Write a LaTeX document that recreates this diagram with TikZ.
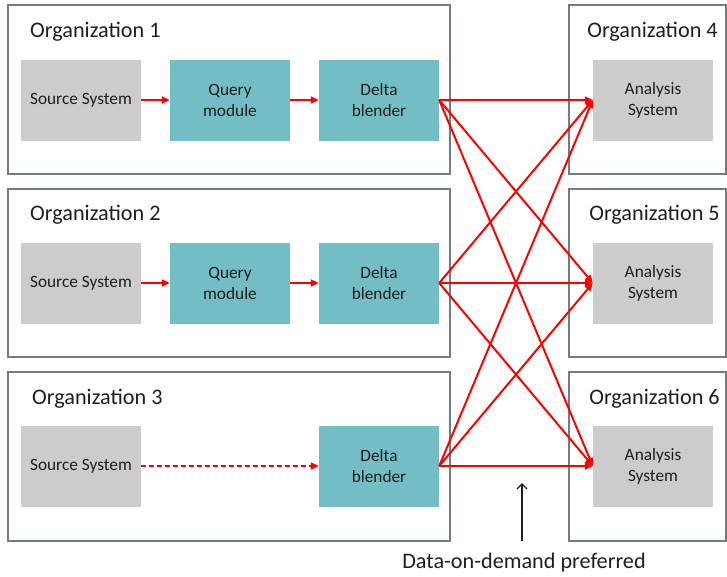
\documentclass[tikz,border=0pt]{standalone}
\usepackage{fontspec}
\setmainfont{Carlito}
\usepackage{xcolor}
\usepackage{tikz}
\usetikzlibrary{arrows.meta,positioning,calc}
\definecolor{framegray}{RGB}{115, 125, 125}
\definecolor{boxgray}{RGB}{204, 204, 204}
\definecolor{tealbox}{RGB}{115, 190, 196}
\definecolor{inkgray}{RGB}{30, 30, 30}

\tikzset{
    orgbox/.style={draw=framegray, line width=1.3pt, inner sep=0pt},
    srcbox/.style={fill=boxgray, minimum width=120pt, minimum height=81pt, inner sep=0pt, align=center, text=inkgray, font=\fontsize{17.3}{21}\selectfont},
    procbox/.style={srcbox, fill=tealbox},
    orgtitle/.style={text=inkgray, inner sep=0pt, font=\fontsize{22.2}{26}\selectfont},
    flow/.style={-{Triangle[length=8pt,width=7pt]}, red, line width=2pt},
    pullflow/.style={flow, dash pattern=on 5pt off 3pt}
}

\begin{document}
\begin{tikzpicture}[x=1pt, y=-1pt]
    \useasboundingbox (0,0) rectangle (727,576);

    % Organization frames
    \node[orgbox, minimum width=442pt, minimum height=169pt] (org1) at (229,89.5) {};
    \node[orgbox, minimum width=442pt, minimum height=168pt] (org2) at (229,273) {};
    \node[orgbox, minimum width=442pt, minimum height=169pt] (org3) at (229,456.5) {};
    \node[orgbox, minimum width=157pt, minimum height=169pt] (org4) at (647.5,89.5) {};
    \node[orgbox, minimum width=157pt, minimum height=168pt] (org5) at (647.5,273) {};
    \node[orgbox, minimum width=157pt, minimum height=169pt] (org6) at (647.5,456.5) {};

    % Titles
    \node[orgtitle, anchor=west] (title1) at (30,31.5) {Organization 1};
    \node[orgtitle, anchor=west] (title2) at (30,214.5) {Organization 2};
    \node[orgtitle, anchor=west] (title3) at (32,398.5) {Organization 3};
    \node[orgtitle] (title4) at (652.5,31.5) {Organization 4};
    \node[orgtitle] (title5) at (654.5,214.5) {Organization 5};
    \node[orgtitle] (title6) at (654.5,398.5) {Organization 6};

    % Organization 1 pipeline
    \node[srcbox] (src1) at (81,100) {Source System};
    \node[procbox] (qry1) at (230,100) {Query\\module};
    \node[procbox] (dlt1) at (379,100) {Delta\\blender};
    \draw[flow] (src1) -- (qry1);
    \draw[flow] (qry1) -- (dlt1);

    % Organization 2 pipeline
    \node[srcbox] (src2) at (81,283) {Source System};
    \node[procbox] (qry2) at (230,283) {Query\\module};
    \node[procbox] (dlt2) at (379,283) {Delta\\blender};
    \draw[flow] (src2) -- (qry2);
    \draw[flow] (qry2) -- (dlt2);

    % Organization 3 pipeline
    \node[srcbox] (src3) at (81,466) {Source System};
    \node[procbox] (dlt3) at (379,466) {Delta\\blender};
    \draw[pullflow] (src3) -- (dlt3);

    % Analysis systems
    \node[srcbox] (ana4) at (653,100) {Analysis\\System};
    \node[srcbox] (ana5) at (653,283) {Analysis\\System};
    \node[srcbox] (ana6) at (653,466) {Analysis\\System};

    % Delta exchange
    \draw[flow] (dlt1.east) -- (ana4.west);
    \draw[flow] (dlt1.east) -- (ana5.west);
    \draw[flow] (dlt1.east) -- (ana6.west);
    \draw[flow] (dlt2.east) -- (ana4.west);
    \draw[flow] (dlt2.east) -- (ana5.west);
    \draw[flow] (dlt2.east) -- (ana6.west);
    \draw[flow] (dlt3.east) -- (ana4.west);
    \draw[flow] (dlt3.east) -- (ana5.west);
    \draw[flow] (dlt3.east) -- (ana6.west);

    % Annotation
    \node[orgtitle] (demand) at (524,563) {Data-on-demand preferred};
    \coordinate (demandtip) at (522,483);
    \draw[-{Straight Barb[length=5pt,width=10pt]}, line width=1.3pt, inkgray] ($(demand.north -| demandtip)+(0,-12)$) -- (demandtip);
\end{tikzpicture}
\end{document}
